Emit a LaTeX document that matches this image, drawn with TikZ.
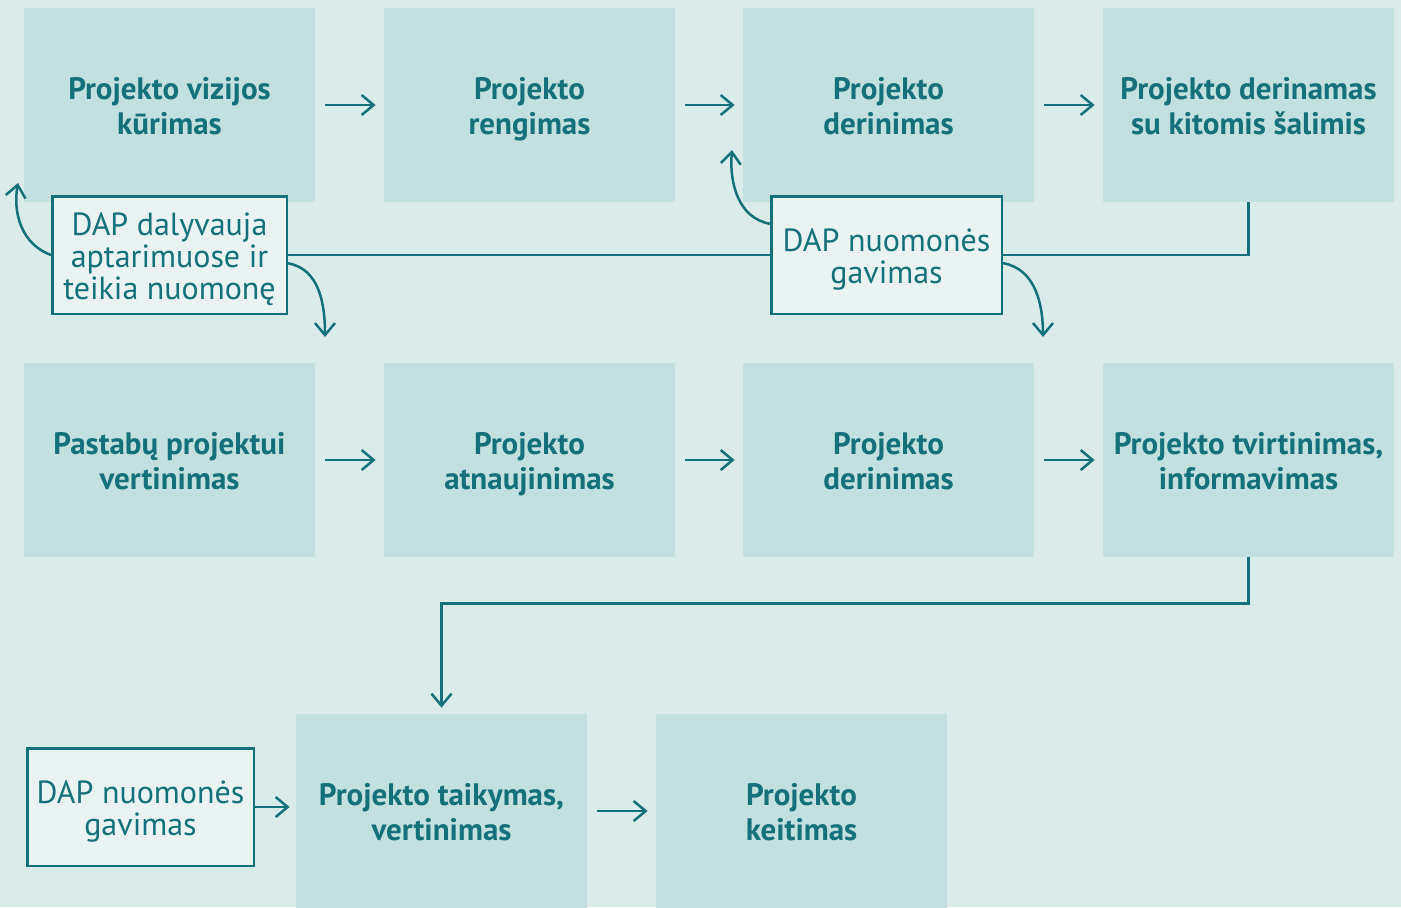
\documentclass[tikz,border=0pt]{standalone}
\usepackage{fontspec}
\setmainfont{PT Sans}
\usetikzlibrary{arrows.meta}
\definecolor{bgcol}{HTML}{DAECE9}
\definecolor{boxcol}{HTML}{C2E0DF}
\definecolor{tealcol}{HTML}{14707A}
\definecolor{dapcol}{HTML}{E8F3F2}

\begin{document}
\begin{tikzpicture}[x=0.5pt,y=-0.5pt,
  stage/.style={fill=boxcol,minimum width=145.5pt,minimum height=97pt,inner sep=0pt,
    text width=145pt,align=center,text=tealcol,font=\bfseries\fontsize{15.5}{17.5}\selectfont,
    execute at begin node={\spaceskip=\fontdimen2\font\rule{0pt}{17.25pt}},execute at end node=\strut},
  dapbox/.style={draw=tealcol,line width=1.25pt,fill=dapcol,inner sep=0pt,minimum height=58.75pt,
    text width=110pt,align=center,text=tealcol,font=\fontsize{16}{16}\selectfont,
    execute at begin node={\spaceskip=\fontdimen2\font\rule{0pt}{17.5pt}},execute at end node=\strut},
  link/.style={draw=tealcol,line width=1.25pt},
  arr/.style={link,-{Straight Barb[length=6pt,width=10pt]}}]
\path[use as bounding box,fill=bgcol] (0,0) rectangle (1401,907);
\node[stage] (a1) at (169.5,105) {Projekto vizijos\\kūrimas};
\node[stage] (a2) at (529.5,105) {Projekto\\rengimas};
\node[stage] (a3) at (888.5,105) {Projekto\\derinimas};
\node[stage] (a4) at (1248.5,105) {Projekto derinamas\\su kitomis šalimis};
\node[stage] (b1) at (169.5,460) {Pastabų projektui\\vertinimas};
\node[stage] (b2) at (529.5,460) {Projekto\\atnaujinimas};
\node[stage] (b3) at (888.5,460) {Projekto\\derinimas};
\node[stage] (b4) at (1248.5,460) {Projekto tvirtinimas,\\informavimas};
\node[stage] (c1) at (441.5,811) {Projekto taikymas,\\vertinimas};
\node[stage] (c2) at (801.5,811) {Projekto\\keitimas};
\node[dapbox,minimum width=117.25pt] (dap1) at (169.5,255) {DAP dalyvauja\\aptarimuose ir\\teikia nuomonę};
\node[dapbox,minimum width=115.25pt] (dap2) at (886.5,255) {DAP nuomonės\\gavimas};
\node[dapbox,minimum width=113.25pt] (dap3) at (140.5,807) {DAP nuomonės\\gavimas};
\coordinate (up1) at (18,183);
\coordinate (dn1) at (325,337);
\coordinate (up2) at (732,150);
\coordinate (dn2) at (1043,337);
\draw[arr,shorten <=5pt,shorten >=4pt] (a1) -- (a2);
\draw[arr,shorten <=5pt,shorten >=4pt] (a2) -- (a3);
\draw[arr,shorten <=5pt,shorten >=4pt] (a3) -- (a4);
\draw[arr,shorten <=5pt,shorten >=4pt] (b1) -- (b2);
\draw[arr,shorten <=5pt,shorten >=4pt] (b2) -- (b3);
\draw[arr,shorten <=5pt,shorten >=4pt] (b3) -- (b4);
\draw[arr,shorten <=5pt,shorten >=4pt] (c1) -- (c2);
\draw[link] (dap1.east) -- (dap2.west);
\draw[link] (dap2.east) -| (a4.south);
\draw[arr,shorten >=3pt] (b4.south) -- ++(0,46) -| (c1.north);
\draw[arr,shorten >=3pt] (dap3.east) -- (c1.west |- dap3.east);
\draw[arr] (dap1.west) to[out=160,in=-100] (up1);
\draw[arr] (dap1.-4) to[out=-10,in=90] (dn1);
\draw[arr] (dap2.165) to[out=170,in=-95] (up2);
\draw[arr] (dap2.-4) to[out=-10,in=90] (dn2);
\end{tikzpicture}
\end{document}
